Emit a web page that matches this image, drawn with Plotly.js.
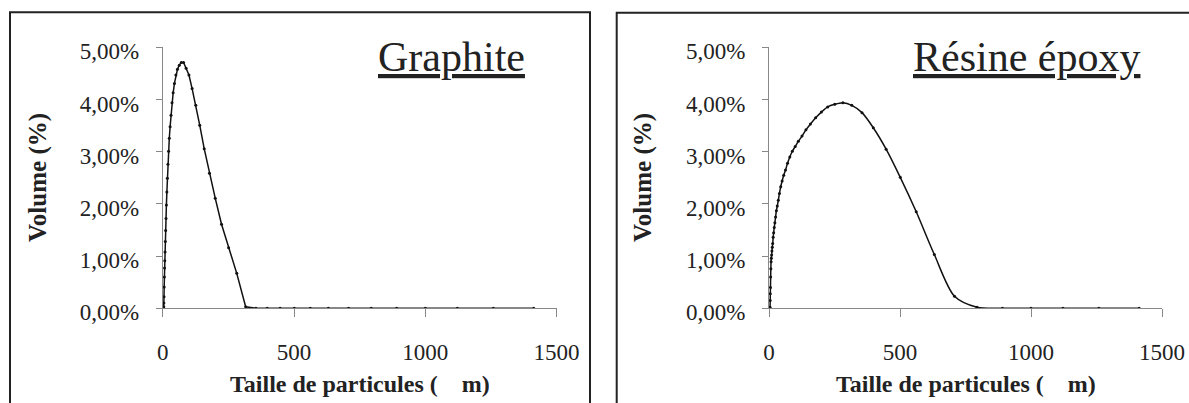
<!DOCTYPE html>
<html>
<head>
<meta charset="utf-8">
<script src="https://cdn.plot.ly/plotly-3.0.1.min.js"></script>
<style>html,body{margin:0;padding:0;background:#fff;}#chart{width:1189px;height:403px;}</style>
</head>
<body>
<div id="chart"></div>
<script>
// Particle size classes (µm)
const sizes = [3.5, 4.0, 4.5, 5.0, 5.6, 6.3, 7.1, 7.9, 8.9, 10, 11.2, 12.6, 14.1, 15.9, 17.8, 20,
  22.4, 25.1, 28.2, 31.6, 35.5, 39.8, 44.7, 50.1, 56.2, 63.1, 70.8, 79.4, 89.1, 100, 112, 126,
  141, 158, 178, 200, 224, 251, 282, 316, 355, 398, 447, 501, 562, 631, 708, 794,
  891, 1000, 1122, 1259, 1413];

// Volume (%) — Graphite
const graphiteVol = [0, 0.03, 0.10, 0.22, 0.41, 0.60, 0.77, 0.91, 1.08, 1.28, 1.49, 1.72, 1.98, 2.23, 2.49, 2.76,
  3.01, 3.26, 3.48, 3.70, 3.94, 4.13, 4.31, 4.47, 4.58, 4.66, 4.71, 4.71, 4.60, 4.47, 4.21, 3.89,
  3.51, 3.06, 2.59, 2.11, 1.61, 1.16, 0.67, 0.03, 0, 0, 0, 0, 0, 0, 0, 0,
  0, 0, 0, 0, 0];

// Volume (%) — Résine époxy
const resineVol = [0, 0.02, 0.15, 0.28, 0.40, 0.60, 0.76, 0.89, 0.96, 1.02, 1.10, 1.17, 1.24, 1.36, 1.45, 1.55,
  1.64, 1.75, 1.87, 1.96, 2.07, 2.20, 2.33, 2.44, 2.55, 2.65, 2.78, 2.90, 3.01, 3.10, 3.20, 3.30,
  3.42, 3.53, 3.65, 3.76, 3.86, 3.91, 3.94, 3.89, 3.75, 3.46, 3.05, 2.51, 1.85, 1.03, 0.23, 0.02,
  0, 0, 0, 0, 0];

const xTicks = [0, 500, 1000, 1500];
const yTicks = [0, 0.01, 0.02, 0.03, 0.04, 0.05];
const panelTitles = ["Graphite", "Résine époxy"];
const xTitle = "Taille de particules (\u00a0\u00a0\u00a0\u00a0m)";
const yTitle = "Volume (%)";

const W = 1189, H = 403;
const px = v => v / W;
const py = v => (H - v) / H;

const FONT = "Liberation Serif, Times New Roman, serif";
const toFrac = arr => arr.map(v => v / 100);

function trace(y, xa, ya, shape) {
  return {
    x: sizes, y: toFrac(y), xaxis: xa, yaxis: ya,
    type: 'scatter', mode: 'lines+markers',
    line: {color: '#111', width: 1.5, shape: shape, smoothing: 0.8},
    marker: {color: '#111', size: 3},
    hoverinfo: 'x+y', showlegend: false
  };
}

const data = [
  trace(graphiteVol, 'x', 'y', 'linear'),
  trace(resineVol, 'x2', 'y2', 'spline')
];

function xax(domain, anchor) {
  return {
    domain: domain, anchor: anchor, range: [0, 1500],
    tickvals: xTicks, tickformat: 'd',
    showgrid: false, zeroline: false,
    showline: true, linecolor: '#888', linewidth: 1,
    ticks: 'outside', ticklen: 8, tickcolor: '#888', tickwidth: 1,
    ticklabelstandoff: 15,
    tickfont: {family: FONT, size: 23, color: '#222'}
  };
}
function yax(anchor) {
  return {
    domain: [py(308.3), py(47.4)], anchor: anchor, range: [0, 0.05],
    tickvals: yTicks, tickformat: '.2%',
    showgrid: false, zeroline: false,
    showline: true, linecolor: '#888', linewidth: 1,
    ticks: 'outside', ticklen: 6, tickcolor: '#888', tickwidth: 1,
    ticklabelstandoff: 12, ticklabelshift: 4,
    tickfont: {family: FONT, size: 23, color: '#222'}
  };
}

const ann = [];
function addTitles(cx, yx, title, titleRight) {
  ann.push({xref: 'paper', yref: 'paper', x: px(cx), y: py(384), xanchor: 'center', yanchor: 'middle',
    text: '<b>' + xTitle + '</b>', showarrow: false, font: {family: FONT, size: 24, color: '#222'}});
  ann.push({xref: 'paper', yref: 'paper', x: px(yx), y: py(177.9), xanchor: 'center', yanchor: 'middle',
    textangle: -90, text: '<b>' + yTitle + '</b>', showarrow: false, font: {family: FONT, size: 25, color: '#222'}});
  ann.push({xref: 'paper', yref: 'paper', x: px(titleRight), y: py(57), xanchor: 'right', yanchor: 'middle',
    text: '<u>' + title + '</u>', showarrow: false, font: {family: FONT, size: 42, color: '#222'}});
}
addTitles(359.6, 38, panelTitles[0], 527);
addTitles(965.5, 643, panelTitles[1], 1142);

const layout = {
  width: W, height: H,
  margin: {l: 0, r: 0, t: 0, b: 0},
  paper_bgcolor: '#fff', plot_bgcolor: '#fff',
  separators: ', ',
  xaxis: xax([px(162.7), px(556.6)], 'y'),
  yaxis: yax('x'),
  xaxis2: xax([px(769), px(1162)], 'y2'),
  yaxis2: yax('x2'),
  annotations: ann,
  shapes: [
    {type: 'rect', xref: 'paper', yref: 'paper', x0: px(10), x1: px(590), y0: -0.1, y1: py(12.3),
      line: {color: '#222', width: 2}, fillcolor: 'rgba(0,0,0,0)', layer: 'below'},
    {type: 'rect', xref: 'paper', yref: 'paper', x0: px(616.7), x1: 1.1, y0: -0.1, y1: py(12.7),
      line: {color: '#222', width: 2}, fillcolor: 'rgba(0,0,0,0)', layer: 'below'}
  ]
};

Plotly.newPlot('chart', data, layout, {displayModeBar: false, staticPlot: true});
</script>
</body>
</html>
